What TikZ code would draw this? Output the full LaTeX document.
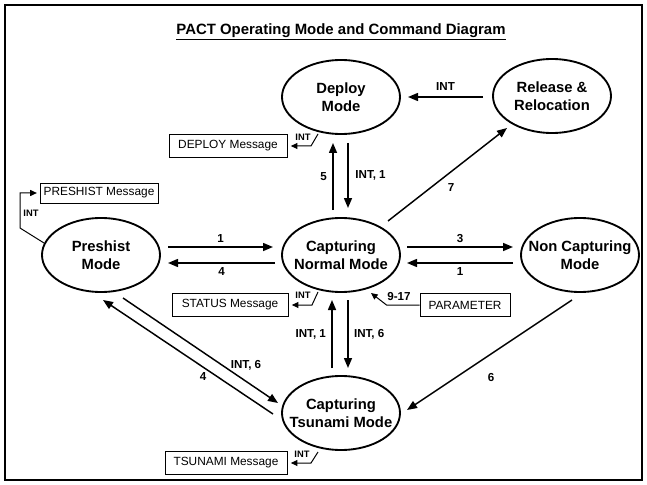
\documentclass[tikz,border=0pt]{standalone}
\usepackage{fontspec}
\setmainfont{Liberation Sans}
\usetikzlibrary{arrows.meta,calc,shapes.geometric}
\begin{document}
\begin{tikzpicture}[x=0.75pt,y=-0.75pt,
 mode/.style={ellipse,draw,line width=1.4pt,minimum width=88.5pt,minimum height=55.5pt,inner sep=0pt},
 modetext/.style={align=center,inner sep=0pt,font=\fontsize{11.1}{13.5}\selectfont\bfseries},
 msg/.style={draw,line width=0.7pt,minimum height=17pt,inner sep=0pt,font=\fontsize{8.9}{10}\selectfont},
 arr/.style={line width=1.1pt,-{Triangle[length=7.5pt,width=6pt]}},
 marr/.style={line width=0.75pt,-{Triangle[length=5pt,width=4.5pt]}},
 lab/.style={font=\fontsize{8.7}{10}\selectfont\bfseries,inner sep=0pt},
 slab/.style={font=\fontsize{7}{8}\selectfont\bfseries,inner sep=0pt}]
\useasboundingbox (0,0) rectangle (647,485);
\draw[line width=1.6pt] (5,5) rectangle (642,480);
\node[font=\fontsize{11.2}{13}\selectfont\bfseries] (title) at (341,32) {\underline{PACT Operating Mode and Command Diagram}};

% modes
\node[mode] (D) at (341,97) {};
\node[modetext] (Dt) at (D) {Deploy\\Mode};
\node[mode] (R) at (552,96) {};
\node[modetext] (Rt) at (R) {Release \&\\Relocation};
\node[mode] (P) at (101,255) {};
\node[modetext] (Pt) at (P) {Preshist\\Mode};
\node[mode] (N) at (341,255) {};
\node[modetext] (Nt) at (N) {Capturing\\Normal Mode};
\node[mode] (C) at (580,255) {};
\node[modetext] (Ct) at (C) {Non Capturing\\Mode};
\node[mode] (T) at (341,413) {};
\node[modetext] (Tt) at (T) {Capturing\\Tsunami Mode};

% message boxes
\node[msg,minimum width=88.5pt] (DM) at (228,146) {DEPLOY Message};
\node[msg,minimum width=88.5pt,minimum height=15pt] (PM) at (99,193) {PRESHIST Message};
\node[msg,minimum width=87pt] (SM) at (230,305) {STATUS Message};
\node[msg,minimum width=67.5pt] (PA) at (465,305) {PARAMETER};
\node[msg,minimum width=91.5pt] (TM) at (226,463) {TSUNAMI Message};

% horizontal transitions
\draw[arr] ($(P)+(67,-8)$) -- ($(N)+(-68,-8)$) node[lab,midway,above=3pt] {1};
\draw[arr] ($(N)+(-66,8)$) -- ($(P)+(67,8)$) node[lab,midway,below=3pt] {4};
\draw[arr] ($(N)+(66,-8)$) -- ($(C)+(-67,-8)$) node[lab,midway,above=3pt] {3};
\draw[arr] ($(C)+(-67,8)$) -- ($(N)+(66,8)$) node[lab,midway,below=3pt] {1};
\draw[arr] ($(R)+(-69,1)$) -- ($(D)+(67,0)$) node[lab,midway,above=4pt] {INT};

% vertical transitions
\draw[arr] ($(N)+(-8,-45)$) -- ($(D)+(-8,46)$) node[lab,midway,left=4pt] {5};
\draw[arr] ($(D)+(7,46)$) -- ($(N)+(7,-47)$) node[lab,midway,right=5pt] {INT, 1};
\draw[arr] ($(T)+(-9,-45)$) -- ($(N)+(-9,45)$) node[lab,midway,left=4pt] {INT, 1};
\draw[arr] ($(N)+(7,45)$) -- ($(T)+(7,-45)$) node[lab,midway,right=4pt] {INT, 6};

% diagonals
\draw[arr] ($(N)+(47,-34)$) -- ($(R)+(-45,32)$);
\node[lab] (l7) at (451,188) {7};
\draw[arr] ($(C)+(-8,45)$) -- ($(T)+(66,-3)$);
\node[lab] (l6) at (491,378) {6};
\draw[arr] ($(P)+(22,43)$) -- ($(T)+(-63,-10)$);
\node[lab] (l int6) at (246,365) {INT, 6};
\draw[arr] ($(T)+(-68,1)$) -- ($(P)+(2,45)$);
\node[lab] (l4) at (203,377) {4};

% message outputs
\draw[marr] ($(D)+(-23,37)$) -- ($(D)+(-30,49)$) -- ([xshift=2.5pt]DM.east);
\node[slab] (iD) at (303,137) {INT};
\draw[marr] ($(N)+(-23,37)$) -- ($(N)+(-29,50)$) -- ([xshift=2.5pt]SM.east);
\node[slab] (iN) at (303,295) {INT};
\draw[marr] ($(T)+(-23,39)$) -- ($(T)+(-30,50)$) -- ([xshift=2.5pt]TM.east);
\node[slab] (iT) at (302,454) {INT};
\draw[marr] ($(P)+(-57,-12)$) -- ($(P)+(-81,-27)$) -- ($(P)+(-81,-62)$) -- ([xshift=-2pt]PM.west);
\node[slab] (iP) at (31,213) {INT};
\draw[marr] (PA.west) -- ($(PA.west)+(-33,0)$) -- ($(N)+(30,38)$);
\node[lab] (l917) at (399,297) {9-17};
\end{tikzpicture}
\end{document}
